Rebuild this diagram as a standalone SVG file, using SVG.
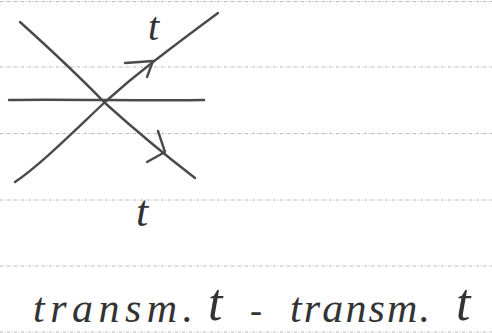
<svg xmlns="http://www.w3.org/2000/svg" width="492" height="333" viewBox="0 0 492 333">
<style>
.rule{stroke:#b8b8b8;stroke-width:1;stroke-dasharray:3 1.5 1 1.5;fill:none}
.ink{stroke:#4a4a4a;stroke-width:2.4;fill:none;stroke-linecap:round;stroke-linejoin:round}
.hand{font-family:"Liberation Serif",serif;font-style:italic;fill:#333}
</style>
<rect width="492" height="333" fill="#fff"/>
<g id="paper">
<line class="rule" x1="0" y1="1.5" x2="492" y2="1.5"/>
<line class="rule" x1="0" y1="67" x2="492" y2="67"/>
<line class="rule" x1="0" y1="133.5" x2="492" y2="133.5"/>
<line class="rule" x1="0" y1="200" x2="492" y2="200"/>
<line class="rule" x1="0" y1="266" x2="492" y2="266"/>
<line class="rule" x1="0" y1="332" x2="492" y2="332"/>
</g>
<g id="connectors">
<path id="horizontal" class="ink" d="M9,100 C60,99 150,101 204,100"/>
<path id="down-line" class="ink" d="M20,22 C40,40 75,72 105,103 C135,130 165,155 195,178"/>
<polyline id="down-arrow" class="ink" points="158,131 165,152 147,162"/>
<path id="up-line" class="ink" d="M15,182 C40,165 70,135 105,102 C125,84 140,72 153,62 C175,45 195,30 218,13"/>
<polyline id="up-arrow" class="ink" points="125,63 153,61 147,77"/>
</g>
<g id="label-top"><text class="hand" x="148" y="40" font-size="40">t</text></g>
<g id="label-bottom"><text class="hand" x="136" y="226" font-size="44">t</text></g>
<g id="caption">
<text class="hand" x="33" y="322" font-size="42" textLength="160" lengthAdjust="spacing">transm.</text>
<text class="hand" x="208" y="320" font-size="52">t</text>
<text class="hand" x="250" y="322" font-size="36">-</text>
<text class="hand" x="290" y="322" font-size="42" textLength="140" lengthAdjust="spacing">transm.</text>
<text class="hand" x="456" y="320" font-size="52">t</text>
</g>
</svg>
